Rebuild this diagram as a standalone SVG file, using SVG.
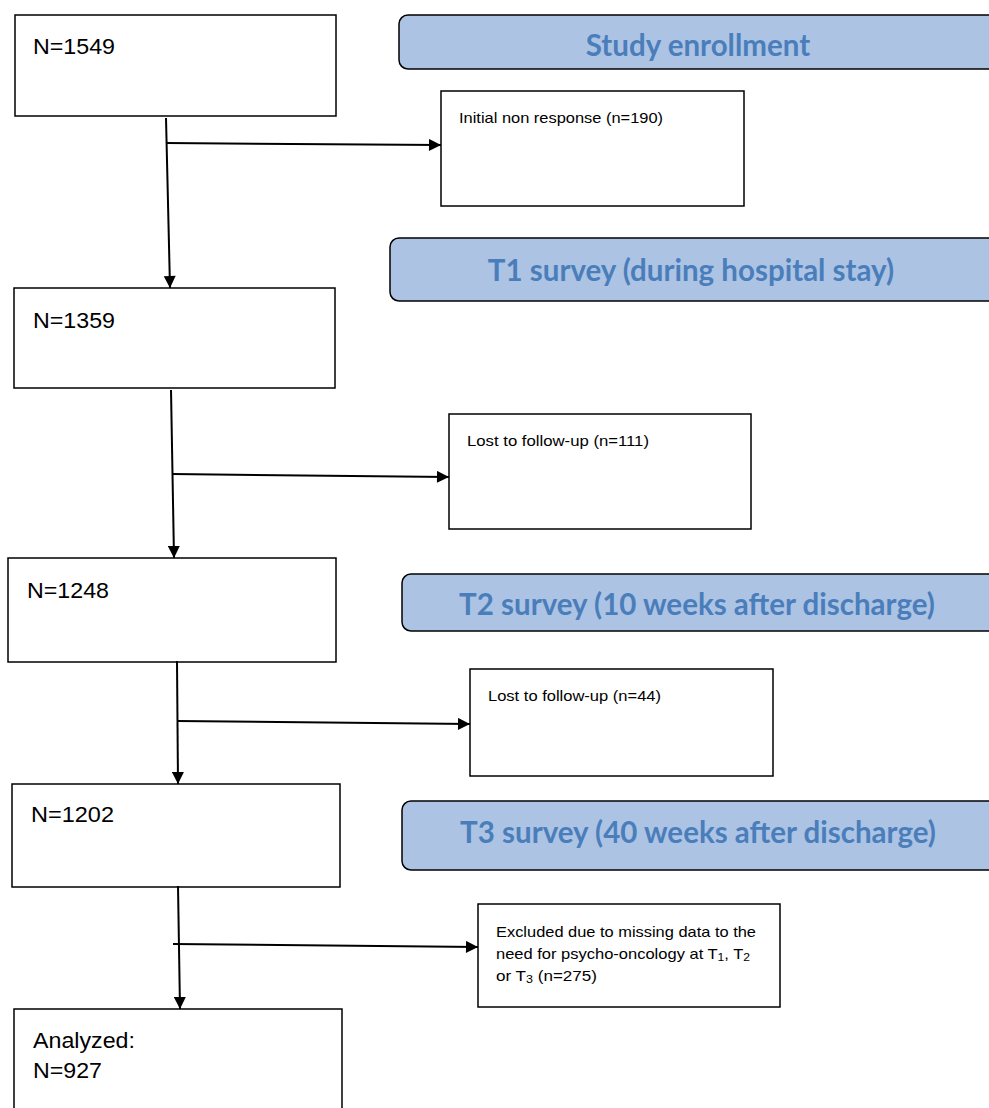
<svg xmlns="http://www.w3.org/2000/svg" width="989" height="1108" viewBox="0 0 989 1108">
<style>
.box{fill:#fff;stroke:#000;stroke-width:1.5}
.ban{fill:#adc3e4;stroke:#000;stroke-width:1.5}
.n{font-family:"Liberation Sans",Arial,sans-serif;font-size:22px;fill:#000}
.s{font-family:"Liberation Sans",Arial,sans-serif;font-size:15px;fill:#000}
.sub{font-size:11px;baseline-shift:-2px}
.b{font-family:Lato,"Open Sans",sans-serif;font-size:29.5px;font-weight:bold;fill:#4a7ebb;text-anchor:middle}
.c{stroke:#000;stroke-width:2;fill:none;marker-end:url(#ah)}
</style>
<defs>
<marker id="ah" viewBox="0 0 10 10" refX="10" refY="5" markerWidth="13" markerHeight="12" markerUnits="userSpaceOnUse" orient="auto">
<path d="M0,0L10,5L0,10z" fill="#000"/>
</marker>
</defs>
<rect width="989" height="1108" fill="#fff"/>
<g id="banner-enroll"><rect class="ban" x="399" y="15" width="600" height="54" rx="9"/><text class="b" x="698" y="56">Study enrollment</text></g>
<g id="banner-t1"><rect class="ban" x="390" y="238" width="609" height="63" rx="9"/><text class="b" x="691" y="281">T1 survey (during hospital stay)</text></g>
<g id="banner-t2"><rect class="ban" x="402" y="574" width="597" height="57" rx="9"/><text class="b" x="697" y="615">T2 survey (10 weeks after discharge)</text></g>
<g id="banner-t3"><rect class="ban" x="402" y="801" width="597" height="69" rx="9"/><text class="b" x="698" y="843">T3 survey (40 weeks after discharge)</text></g>
<g id="n1549"><rect class="box" x="15" y="15" width="321" height="101"/><text class="n" x="33" y="54" textLength="82" lengthAdjust="spacingAndGlyphs">N=1549</text></g>
<g id="nonresp"><rect class="box" x="441" y="91" width="303" height="115"/><text class="s" x="459" y="123" textLength="204" lengthAdjust="spacingAndGlyphs">Initial non response (n=190)</text></g>
<g id="n1359"><rect class="box" x="14" y="288" width="321" height="100"/><text class="n" x="33" y="328" textLength="82" lengthAdjust="spacingAndGlyphs">N=1359</text></g>
<g id="lost111"><rect class="box" x="449" y="414" width="302" height="115"/><text class="s" x="467" y="446" textLength="182" lengthAdjust="spacingAndGlyphs">Lost to follow-up (n=111)</text></g>
<g id="n1248"><rect class="box" x="8" y="558" width="328" height="104"/><text class="n" x="27" y="598" textLength="82" lengthAdjust="spacingAndGlyphs">N=1248</text></g>
<g id="lost44"><rect class="box" x="470" y="669" width="303" height="107"/><text class="s" x="488" y="701" textLength="173" lengthAdjust="spacingAndGlyphs">Lost to follow-up (n=44)</text></g>
<g id="n1202"><rect class="box" x="12" y="784" width="328" height="103"/><text class="n" x="31" y="822" textLength="83" lengthAdjust="spacingAndGlyphs">N=1202</text></g>
<g id="excluded"><rect class="box" x="478" y="904" width="302" height="103"/>
<text class="s" x="496" y="937" textLength="260" lengthAdjust="spacingAndGlyphs">Excluded due to missing data to the</text>
<text class="s" x="496" y="959" textLength="254" lengthAdjust="spacingAndGlyphs">need for psycho-oncology at T<tspan class="sub">1</tspan>, T<tspan class="sub">2</tspan></text>
<text class="s" x="496" y="981" textLength="101" lengthAdjust="spacingAndGlyphs">or T<tspan class="sub">3</tspan>  (n=275)</text></g>
<g id="analyzed"><rect class="box" x="14" y="1009" width="328" height="110"/><text class="n" x="33" y="1048" textLength="102" lengthAdjust="spacingAndGlyphs">Analyzed:</text><text class="n" x="33" y="1078" textLength="69" lengthAdjust="spacingAndGlyphs">N=927</text></g>
<g id="connectors">
<path class="c" d="M166,118L170,288"/>
<path class="c" d="M166,143L441,145"/>
<path class="c" d="M171,390L174,558"/>
<path class="c" d="M172,474L449,477"/>
<path class="c" d="M177,661L178,784"/>
<path class="c" d="M177,721L470,724"/>
<path class="c" d="M178,886L180,1009"/>
<path class="c" d="M173,944L478,947"/>
</g>
</svg>
